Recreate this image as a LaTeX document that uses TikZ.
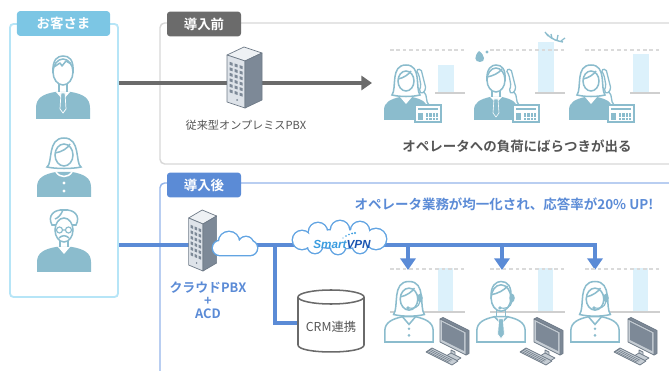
\documentclass[tikz,border=0pt]{standalone}
\usepackage{fontspec}
\setmainfont{Noto Sans CJK JP}[BoldFont={* Bold}]
\newfontfamily\logofont{Liberation Sans}
\usetikzlibrary{arrows.meta,fit}

\definecolor{iconblue}{HTML}{8BBCCD}
\definecolor{custsky}{HTML}{7CC6E4}
\definecolor{custframe}{HTML}{B6E5F7}
\definecolor{oldgray}{HTML}{6B6B6B}
\definecolor{oldframe}{HTML}{D7D7D7}
\definecolor{newblue}{HTML}{5B8BD6}
\definecolor{newframe}{HTML}{93B4EA}
\definecolor{barsky}{HTML}{DCF1FB}
\definecolor{gridgray}{HTML}{CFCFCF}
\definecolor{dashgray}{HTML}{DADADA}
\definecolor{srvtop}{HTML}{EEF1F4}
\definecolor{srvface}{HTML}{DEE3E9}
\definecolor{srvside}{HTML}{7D8997}
\definecolor{srvline}{HTML}{6F7B88}
\definecolor{pcfrm}{HTML}{C6CDD4}
\definecolor{cloudline}{HTML}{62A4E2}
\definecolor{vpnsky}{HTML}{3A9DE0}
\definecolor{vpnnavy}{HTML}{1B55B0}
\definecolor{txtgray}{HTML}{555555}
\definecolor{drumgray}{HTML}{6A6A6A}

\tikzset{
  icon/.style={draw=iconblue, line width=1.3pt, fill=white},
  torso/.style={fill=iconblue},
  collar/.style={fill=white},
  button/.style={},
  % customers
  pics/custman/.style={code={
    \fill[iconblue] (-27,47) -- (-27,36) .. controls (-27,26) and (-20,22) .. (-8,20)
      -- (8,20) .. controls (20,22) and (27,26) .. (27,36) -- (27,47) -- cycle;
    \fill[white] (-7,20) -- (0,28) -- (7,20) -- cycle;
    \filldraw[iconblue, draw=white, line width=0.6pt] (-2,21) -- (2,21) -- (3,37) -- (0,41) -- (-3,37) -- cycle;
    \draw[icon] (-4,9) -- (-4,20) (4,9) -- (4,20);
    \draw[icon] (0,0) ellipse [x radius=10, y radius=13];
    \draw[icon, fill=none] (-10,1) .. controls (-11,-13) and (-5,-16) .. (0,-16)
      .. controls (6,-16) and (11,-13) .. (10,1);
    \draw[icon, fill=none, line join=round] (-9,-5) -- (-3,-9) -- (-1,-6) -- (3,-11) -- (8,-8);
  }},
  pics/custwoman/.style={code={
    \fill[iconblue] (-27,43) -- (-27,33) .. controls (-27,24) and (-20,20) .. (-8,18)
      -- (8,18) .. controls (20,20) and (27,24) .. (27,33) -- (27,43) -- cycle;
    \draw[white, line width=1.3pt] (-8,18) .. controls (-4,24) and (4,24) .. (8,18);
    \fill[white] (0,29) circle (1.7) (0,37) circle (1.7);
    \draw[icon] (-17,13) .. controls (-11,9) and (-17,-16) .. (0,-16)
      .. controls (17,-16) and (11,9) .. (17,13) .. controls (8,15) and (-8,15) .. (-17,13) -- cycle;
    \draw[icon] (0,1) ellipse [x radius=9, y radius=11];
    \draw[icon, fill=none] (-9,-1) .. controls (-2,-2) and (4,-6) .. (6,-10);
  }},
  pics/custsenior/.style={code={
    \fill[iconblue] (-27,44) -- (-27,34) .. controls (-27,25) and (-20,21) .. (-8,19)
      -- (8,19) .. controls (20,21) and (27,25) .. (27,34) -- (27,44) -- cycle;
    \fill[white] (-6,19) -- (0,26) -- (6,19) -- cycle;
    \draw[icon] (-4,9) -- (-4,19) (4,9) -- (4,19);
    \draw[icon] (-12,-3) .. controls (-17,-12) and (-10,-19) .. (0,-18)
      .. controls (10,-19) and (17,-12) .. (12,-3) -- cycle;
    \draw[icon] (0,2) ellipse [x radius=9, y radius=12];
    \draw[icon, fill=none] (-1,-18) .. controls (-3,-13) and (-6,-10) .. (-9,-9);
    \draw[iconblue, line width=1pt] (-4.5,2) circle (3) (4.5,2) circle (3) (-1.5,2) -- (1.5,2);
    \draw[iconblue, line width=1.3pt] (-5,10) .. controls (-2,7) and (2,7) .. (5,10);
  }},
  % operators
  pics/opwoman/.style={code={
    \path[torso] (-22,40) -- (-22,30) .. controls (-22,22) and (-15,19) .. (-6,17)
      -- (6,17) .. controls (15,19) and (22,22) .. (22,30) -- (22,40) -- cycle;
    \path[collar] (-6,17) -- (0,24) -- (6,17);
    \path[button] (0,28) circle (1.3) (0,34) circle (1.3);
    \draw[icon] (-14,15) .. controls (-9,8) and (-16,-15) .. (0,-15)
      .. controls (16,-15) and (9,8) .. (14,15) .. controls (6,17) and (-6,17) .. (-14,15) -- cycle;
    \draw[icon] (0,1) ellipse [x radius=8, y radius=10];
    \draw[icon, fill=none] (-8,-1) .. controls (-2,-2) and (3,-6) .. (5,-9);
  }},
  pics/opman/.style={code={
    \path[torso] (-22,40) -- (-22,30) .. controls (-22,22) and (-15,19) .. (-6,17)
      -- (6,17) .. controls (15,19) and (22,22) .. (22,30) -- (22,40) -- cycle;
    \path[collar] (-6,17) -- (0,23) -- (6,17);
    \filldraw[iconblue, draw=white, line width=0.5pt] (-2,19) -- (2,19) -- (3,33) -- (0,37) -- (-3,33) -- cycle;
    \draw[icon] (-4,8) -- (-4,17) (4,8) -- (4,17);
    \draw[icon] (0,0) ellipse [x radius=9, y radius=12];
    \draw[icon, fill=none] (-9,1) .. controls (-10,-12) and (-4,-15) .. (0,-15)
      .. controls (6,-15) and (10,-11) .. (9,1);
    \draw[icon, fill=none] (-9,-3) .. controls (-3,-4) and (3,-7) .. (6,-11);
  }},
  pics/handset/.style={code={
    \draw[icon, line width=1.1pt, rounded corners=1.5pt] (10,-10) -- (15,-11) -- (20,9) -- (16,14)
      -- (13,11) -- (15,6) -- (13,-5) -- cycle;
    \draw[icon, fill=none, line width=1.1pt] (18,12) .. controls (22,16) and (19,21) .. (23,25);
  }},
  pics/deskphone/.style={code={
    \draw[icon, line width=1.1pt] (0,0) rectangle (26,17);
    \fill[iconblue] (3,3) rectangle (23,5.5);
    \fill[iconblue] (3,8) rectangle (8,15);
    \foreach \i in {0,...,3}
      \foreach \j in {0,1,2}
        \fill[iconblue] (11+3.3*\i,8+2.5*\j) rectangle ++(2.2,1.6);
  }},
  pics/headset/.style={code={
    \fill[iconblue] (10,0) ellipse [x radius=2.5, y radius=4];
    \draw[iconblue, line width=1pt] (10,3) .. controls (9,9) and (4,10) .. (-1,9);
    \fill[iconblue] (-1,9) circle (1.6);
  }},
  % hardware
  pics/server/.style={code={
    \filldraw[fill=srvtop, gadget] (0,0) -- (-18,-6) -- (-1,-14) -- (17,-8) -- cycle;
    \filldraw[fill=srvface, gadget] (0,0) -- (-18,-6) -- (-18,41) -- (0,47) -- cycle;
    \filldraw[fill=srvside, gadget] (0,0) -- (17,-8) -- (17,39) -- (0,47) -- cycle;
    \foreach \i in {0,1,2}
      \foreach \j in {0,...,5}
        \fill[srvside] ({-15.5+5*\i},{(-15.5+5*\i)/3+6+5.5*\j}) -- ++(3,1) -- ++(0,3) -- ++(-3,-1) -- cycle;
    \fill[srvside] (-8,39) circle (1);
  }},
  pics/pc/.style={code={
    \filldraw[fill=srvside, gadget] (0,0) -- (3,-1.5) -- (29,11.5) -- (29,34.5) -- (26,36) -- (26,13) -- cycle;
    \filldraw[fill=pcfrm, gadget] (0,0) -- (26,13) -- (26,36) -- (0,23) -- cycle;
    \fill[srvside] (2,3) -- (24,14) -- (24,32) -- (2,21) -- cycle;
    \filldraw[fill=pcfrm, gadget] (11,31) -- (15,33) -- (15,38) -- (11,36) -- cycle;
    \filldraw[fill=pcfrm, gadget] (6,37) -- (11,34) -- (21,39) -- (16,42) -- cycle;
    \filldraw[fill=pcfrm, gadget] (-14,33) -- (-8,29) -- (18,42) -- (12,46) -- cycle;
    \foreach \t in {0.3,0.55,0.8}
      \draw[srvline, line width=0.5pt] ({-8-6*\t},{29+4*\t}) -- ++(22,11);
  }},
}

\begin{document}
\begin{tikzpicture}[x=0.03cm, y=-0.03cm,
    tab/.style={text=white, font=\fontsize{11.5}{12}\selectfont\bfseries,
      rounded corners=2.5pt, inner sep=0pt, minimum width=2.22cm, minimum height=0.74cm},
    oldwire/.style={draw=oldgray, line width=2.6pt},
    newwire/.style={draw=newblue, line width=2.6pt},
    level/.style={draw=gridgray, line width=0.9pt},
    limit/.style={draw=dashgray, line width=0.9pt, dash pattern=on 3pt off 2.5pt},
    gadget/.style={draw=srvline, line width=0.6pt, line join=round},
    puff/.style={draw=cloudline, line width=2.4pt},
  ]

\useasboundingbox (0,0) rectangle (669,371);
\clip (0,0) rectangle (669,371);

% frames and tabs
\node[fit={(10,24) (118,297)}, inner sep=0pt, draw=custframe, line width=1.6pt, rounded corners=3pt] (cust) {};
\draw[draw=oldframe, line width=1.2pt, rounded corners=4pt] (160,23) rectangle (700,164);
\draw[draw=newframe, line width=1.2pt, rounded corners=4pt] (160,183) rectangle (700,420);
\node[tab, fill=custsky, minimum width=2.79cm] (custtab) at (63.5,23.5) {お客さま};
\node[tab, fill=oldgray] (oldtab) at (204,24) {導入前};
\node[tab, fill=newblue] (newtab) at (204,185) {導入後};

% wiring
\coordinate (oldtip) at (372,83);
\coordinate (hub) at (595,245);
\coordinate (tap) at (275,245);
\coordinate (crmin) at (298,323);
\foreach \x [count=\n] in {408,502,595}
  \coordinate (seat\n) at (\x,270);
\draw[oldwire, -{Triangle[width=12pt,length=9pt]}] (cust.east |- oldtip) -- (oldtip);
\draw[newwire] (cust.east |- hub) -- ([xshift=1.3pt]hub);
\draw[newwire] (tap) |- (crmin);
\foreach \n in {1,2,3}
  \draw[newwire, -{Triangle[width=13pt,length=10pt]}] (hub -| seat\n) -- (seat\n);

% load bars
\foreach \bx/\by in {438/65, 538/42, 633/54} {
  \fill[barsky] (\bx,\by) rectangle (\bx+16,93);
  \draw[limit] (\bx-48,50) -- (\bx+27,50);
  \draw[level] (\bx-3,93) -- (\bx+27,93);
}
\foreach \bx in {438,538,633} {
  \fill[barsky] (\bx,268) rectangle (\bx+15,312);
  \draw[limit] (\bx-48,269) -- (\bx+27,269);
  \draw[level] (\bx-48,312) -- (\bx+27,312);
}

% customers
\pic at (63,72) {custman};
\pic at (64,154) {custwoman};
\pic at (64,228) {custsenior};

% old PBX
\pic at (245,61) {server};

% cloud PBX
\pic[xscale=0.8] at (203,224) {server};
\draw[puff] (229,242) circle (10) (246,244) circle (7);
\draw[puff, rounded corners=6pt] (213,241) rectangle (257,255);
\fill[white] (229,242) circle (10) (246,244) circle (7);
\fill[white, rounded corners=6pt] (213,241) rectangle (257,255);

% VPN cloud
\foreach \cx/\cy/\r in {302/240/9, 318/232/9, 340/230/9, 360/231/9, 376/239/10,
                        315/246/7, 338/247/7, 360/246/7}
  \draw[puff] (\cx,\cy) circle (\r);
\draw[puff] (340,239) ellipse [x radius=36, y radius=9];
\foreach \cx/\cy/\r in {302/240/9, 318/232/9, 340/230/9, 360/231/9, 376/239/10,
                        315/246/7, 338/247/7, 360/246/7}
  \fill[white] (\cx,\cy) circle (\r);
\fill[white] (340,239) ellipse [x radius=36, y radius=9];
\foreach \dx/\dy/\r in {343/238/0.6, 346/236/0.8, 349/234.5/0.9, 352/233.5/1, 355/233/1.1}
  \fill[vpnsky] (\dx,\dy) circle (\r);

% CRM drum
\fill[white] (298,297) rectangle (364,345);
\fill[white] (331,345) ellipse [x radius=33, y radius=7];
\draw[drumgray, line width=1.3pt] (298,297) -- (298,345) .. controls (298,354.3) and (364,354.3) .. (364,345) -- (364,297);
\draw[drumgray, line width=1.3pt] (331,297) ellipse [x radius=33, y radius=7];

% operators before
\pic at (406,80) {opwoman};
\pic at (406,80) {handset};
\pic at (415,105) {deskphone};
\pic at (496,80) {opman};
\pic at (496,80) {handset};
\pic at (513,105) {deskphone};
\pic at (591,80) {opwoman};
\pic at (591,80) {handset};
\pic at (608,105) {deskphone};
\fill[iconblue] (479,51) .. controls (485,55) and (486,62) .. (480,62) .. controls (474,62) and (474,56) .. (479,51);
\fill[iconblue] (487,52) circle (1.6);
\draw[iconblue, line width=1.2pt] (547,34) .. controls (552,40) and (558,41) .. (563,42);
\draw[iconblue, line width=1.1pt] (548,36) -- (545,32) (552,38.5) -- (551,34) (557,40) -- (558,35) (561,41) -- (565,38);

% operators after
\begin{scope}[torso/.style={icon}, collar/.style={draw=iconblue, line width=1.3pt}, button/.style={fill=iconblue}]
  \pic[scale=1.1] at (409,298) {opwoman};
  \pic[scale=1.1] at (409,298) {headset};
  \pic[scale=1.1] at (501,298) {opman};
  \pic[scale=1.1] at (501,298) {headset};
  \pic[scale=1.1] at (595,298) {opwoman};
  \pic[scale=1.1] at (595,298) {headset};
\end{scope}
\pic at (440,319) {pc};
\pic at (534,319) {pc};
\pic at (628,319) {pc};

% labels
\node[font=\fontsize{9.5}{11}\selectfont, text=txtgray] (oldpbx) at (246,125) {従来型オンプレミスPBX};
\node[font=\fontsize{11.5}{13}\selectfont\bfseries, text=txtgray] (oldnote) at (517,146) {オペレータへの負荷にばらつきが出る};
\node[font=\fontsize{11.5}{13}\selectfont\bfseries, text=newblue] (newnote) at (504,204) {オペレータ業務が均一化され、応答率が20\% UP!};
\node[align=center, font=\fontsize{11}{11}\selectfont\bfseries, text=newblue] (newpbx) at (208,300) {クラウドPBX\\+\\ACD};
\node[font=\logofont\fontsize{10}{12}\selectfont\bfseries\itshape] (vpn) at (342,244) {\textcolor{vpnsky}{Smart}\textcolor{vpnnavy}{VPN}};
\node[font=\fontsize{10.5}{12}\selectfont, text=txtgray] (crm) at (331,327) {CRM連携};
\end{tikzpicture}
\end{document}
